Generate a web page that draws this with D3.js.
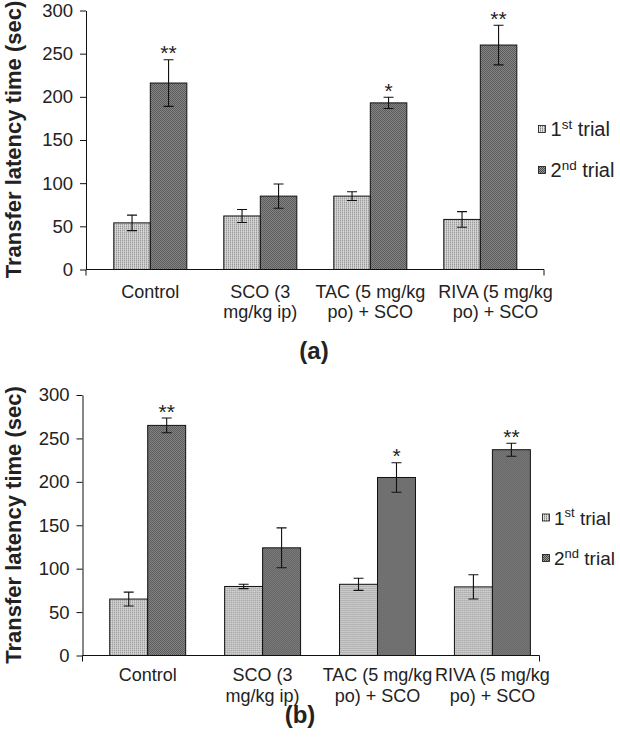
<!DOCTYPE html>
<html>
<head>
<meta charset="utf-8">
<script src="https://cdn.jsdelivr.net/npm/d3@7/dist/d3.min.js"></script>
<style>
  html, body { margin: 0; padding: 0; background: #fff; }
  svg { display: block; }
  text { font-family: "Liberation Sans", Arial, sans-serif; fill: #222; }
</style>
</head>
<body>
<svg id="chart" width="620" height="751"></svg>
<script>
// ---------- DATA ----------
const categoryLines = [["Control"], ["SCO (3", "mg/kg ip)"], ["TAC (5 mg/kg", "po) + SCO"], ["RIVA (5 mg/kg", "po) + SCO"]];
const seriesNames = ["1st trial", "2nd trial"];
const yTicks = [0, 50, 100, 150, 200, 250, 300];
const yLabel = "Transfer latency time (sec)";
const panelNames = ["(a)", "(b)"];

// panel (a)
const aTrial1 = [54, 62, 85, 58];
const aTrial1Err = [9, 7.5, 5, 9];
const aTrial2 = [216, 85, 193, 260];
const aTrial2Err = [27, 14, 6.5, 23];
const aSignif = ["**", "", "*", "**"];

// panel (b)
const bTrial1 = [65, 79.5, 82, 79];
const bTrial1Err = [8, 2.5, 7, 14];
const bTrial2 = [265, 124, 205, 237];
const bTrial2Err = [8.5, 23, 17, 7.5];
const bSignif = ["**", "", "*", "**"];

// ---------- LAYOUT ----------
const svg = d3.select("#chart");
svg.append("rect").attr("width", 620).attr("height", 751).attr("fill", "#fff");

const defs = svg.append("defs");
// 1st trial: light dotted
const p1 = defs.append("pattern").attr("id", "pat1").attr("patternUnits", "userSpaceOnUse")
  .attr("width", 2).attr("height", 2);
p1.append("rect").attr("width", 2).attr("height", 2).attr("fill", "#e2e2e2");
p1.append("rect").attr("x", 0).attr("y", 0).attr("width", 1).attr("height", 1).attr("fill", "#858585");
p1.append("rect").attr("x", 0).attr("y", 1).attr("width", 1).attr("height", 1).attr("fill", "#b0b0b0");
// 2nd trial: dark checker
const p2 = defs.append("pattern").attr("id", "pat2").attr("patternUnits", "userSpaceOnUse")
  .attr("width", 2).attr("height", 2);
p2.append("rect").attr("width", 2).attr("height", 2).attr("fill", "#989898");
p2.append("rect").attr("x", 0).attr("y", 0).attr("width", 1).attr("height", 1).attr("fill", "#484848");
p2.append("rect").attr("x", 1).attr("y", 1).attr("width", 1).attr("height", 1).attr("fill", "#484848");
const fills = ["url(#pat1)", "url(#pat2)"];

const panels = [
  { name: panelNames[0], t1: aTrial1, e1: aTrial1Err, t2: aTrial2, e2: aTrial2Err, sig: aSignif,
    yRange: [269.5, 10.5], axisX: 86, axisEnd: 544, band: [95.3, 535.3], pad: 0.336,
    titleX: 21, titleY: 139.5, label: { x: 314, y: 359 }, catOffset: 28, catGap: 13,
    legend: { sx: 538.5, tx: 550.5, fs: 20, sup: 13.5, y: [129, 170] } },
  { name: panelNames[1], t1: bTrial1, e1: bTrial1Err, t2: bTrial2, e2: bTrial2Err, sig: bSignif,
    yRange: [655.5, 395], axisX: 82.5, axisEnd: 539.5, band: [90.25, 549.85], pad: 0.339,
    titleX: 21, titleY: 525, label: { x: 300, y: 723 }, catOffset: 25.5, catGap: 2,
    legend: { sx: 542.5, tx: 554, fs: 19, sup: 13, y: [517.5, 558] } }
];

const measurer = svg.append("text").attr("font-size", 18).attr("visibility", "hidden");
function textW(s) { measurer.text(s); return measurer.node().getComputedTextLength(); }

panels.forEach(P => {
  const g = svg.append("g");
  const y = d3.scaleLinear().domain([0, 300]).range(P.yRange);
  const x0 = d3.scaleBand().domain(d3.range(categoryLines.length)).range(P.band)
    .paddingInner(P.pad).paddingOuter(P.pad / 2);
  const x1 = d3.scaleBand().domain([0, 1]).range([0, x0.bandwidth()]);

  // y axis
  const yAxis = d3.axisLeft(y).tickValues(yTicks).tickSize(6).tickPadding(7).tickSizeOuter(0);
  const ya = g.append("g").attr("transform", `translate(${P.axisX},0)`).call(yAxis);
  ya.select(".domain").attr("stroke", "#111");
  ya.selectAll(".tick line").attr("stroke", "#111");
  ya.selectAll(".tick text").attr("font-size", 18.5).attr("fill", "#222")
    .attr("font-family", '"Liberation Sans", Arial, sans-serif');

  // bars
  const data = categoryLines.map((c, i) => [
    { i, s: 0, v: P.t1[i], e: P.e1[i] },
    { i, s: 1, v: P.t2[i], e: P.e2[i] }
  ]);
  const grp = g.selectAll(".grp").data(data).enter().append("g")
    .attr("transform", (d, i) => `translate(${x0(i)},0)`);
  grp.selectAll("rect").data(d => d).enter().append("rect")
    .attr("x", d => x1(d.s)).attr("width", x1.bandwidth())
    .attr("y", d => y(d.v)).attr("height", d => y(0) - y(d.v))
    .attr("fill", d => fills[d.s]).attr("stroke", "#111").attr("stroke-width", 1);

  // error bars
  const capW = 10;
  grp.selectAll(".err").data(d => d).enter().append("path")
    .attr("fill", "none").attr("stroke", "#111").attr("stroke-width", 1.1)
    .attr("d", d => {
      const cx = x1(d.s) + x1.bandwidth() / 2;
      const yt = y(d.v + d.e), yb = y(d.v - d.e);
      return `M${cx},${yt}V${yb}M${cx - capW / 2},${yt}H${cx + capW / 2}M${cx - capW / 2},${yb}H${cx + capW / 2}`;
    });

  // significance stars
  grp.append("text")
    .attr("x", (d, i) => x1(1) + x1.bandwidth() / 2)
    .attr("y", (d, i) => y(P.t2[i] + P.e2[i]) + 0.5)
    .attr("text-anchor", "middle").attr("font-size", 21)
    .text((d, i) => P.sig[i]);

  // x axis line with end ticks
  const y0 = y(0);
  g.append("path").attr("fill", "none").attr("stroke", "#111").attr("stroke-width", 1)
    .attr("d", `M${P.axisX},${y0}H${P.axisEnd}M${P.axisX},${y0}V${y0 + 6}M${P.axisEnd},${y0}V${y0 + 6}`);

  // category labels: centred on groups, pushed right if they would collide
  let prevRight = -Infinity;
  const labelX = categoryLines.map((lines, i) => {
    const w = d3.max(lines, textW);
    let cx = x0(i) + x0.bandwidth() / 2;
    if (cx - w / 2 < prevRight + P.catGap) cx = prevRight + P.catGap + w / 2;
    prevRight = cx + w / 2;
    return cx;
  });
  const lab = g.selectAll(".cat").data(categoryLines).enter().append("text")
    .attr("text-anchor", "middle").attr("font-size", 18)
    .attr("transform", (d, i) => `translate(${labelX[i]},${y0 + P.catOffset})`);
  lab.selectAll("tspan").data(d => d).enter().append("tspan")
    .attr("x", 0).attr("y", (d, j) => j * 20.5).text(d => d);

  // y title
  g.append("text").attr("transform", `translate(${P.titleX},${P.titleY}) rotate(-90)`)
    .attr("text-anchor", "middle").attr("font-size", 22).attr("font-weight", "bold")
    .text(yLabel);

  // legend
  seriesNames.forEach((name, k) => {
    const ly = P.legend.y[k];
    g.append("rect").attr("x", P.legend.sx).attr("y", ly - 3.5).attr("width", 7).attr("height", 7)
      .attr("fill", fills[k]).attr("stroke", "#111").attr("stroke-width", 0.8);
    const m = name.match(/^(\d)(\w+)(.*)$/);
    const t = g.append("text").attr("x", P.legend.tx).attr("y", ly + 7).attr("font-size", P.legend.fs);
    t.append("tspan").text(m[1]);
    t.append("tspan").attr("font-size", P.legend.sup).attr("dy", -7.5).text(m[2]);
    t.append("tspan").attr("dy", 7.5).text(m[3]);
  });

  // panel label
  g.append("text").attr("x", P.label.x).attr("y", P.label.y).attr("text-anchor", "middle")
    .attr("font-size", 24).attr("font-weight", "bold").text(P.name);
});
measurer.remove();
</script>
</body>
</html>
